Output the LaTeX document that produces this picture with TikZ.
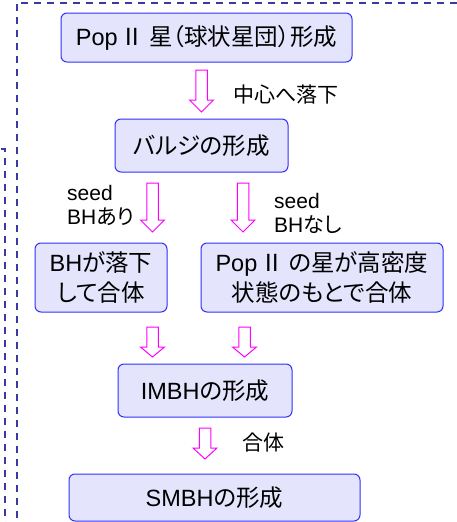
\documentclass[tikz,border=0pt]{standalone}
\usepackage{fontspec}
\setmainfont{Liberation Sans}
\newfontfamily\jp[RawFeature=+palt]{Noto Sans CJK JP}
\definecolor{framec}{RGB}{58,58,160}
\definecolor{boxline}{RGB}{48,48,255}
\definecolor{boxfill}{RGB}{228,228,252}
\definecolor{arrc}{RGB}{255,0,255}
\newcommand\blkarr[4]{%
  \draw[blk] (#1-5.75,#2) -- (#1+5.75,#2) -- (#1+5.75,#3) -- (#1+12,#3) -- (#1,#4) -- (#1-12,#3) -- (#1-5.75,#3) -- cycle;}
\begin{document}
\begin{tikzpicture}[x=1pt,y=-1pt,
  box/.style={draw=boxline, fill=boxfill, rounded corners=6pt, line width=1pt, inner sep=0pt, align=center, font=\fontsize{23.5}{30}\selectfont},
  lbl/.style={inner sep=0pt, align=left, font=\fontsize{21}{24}\selectfont, anchor=west},
  framel/.style={draw=framec, line width=2pt, dash pattern=on 7pt off 6pt},
  blk/.style={draw=arrc, line width=1pt, fill=white, line join=miter}]
\useasboundingbox (0,0) rectangle (457,522);
% frames
\draw[framel] (457,2.5) -- (16.5,2.5) -- (16.5,522);
\draw[framel] (1,148.5) -- (5,148.5) -- (5,522);
% boxes
\node[box, minimum width=291pt, minimum height=49pt] (b1) at (206.5,37.5) {Pop\hspace{3pt}{\jp Ⅱ\hspace{5pt}星（球状星団）形成}};
\node[box, minimum width=173pt, minimum height=53pt] (b2) at (201.5,145.5) {{\jp バルジの形成}};
\node[box, minimum width=132pt, minimum height=69pt] (b3) at (101,277.5) {BH{\jp が落下}\\{\jp して合体}};
\node[box, minimum width=242pt, minimum height=69pt] (b4) at (322,277.5) {Pop\hspace{3pt}{\jp Ⅱ\hspace{5pt}の星が高密度}\\{\jp 状態のもとで合体}};
\node[box, minimum width=174pt, minimum height=53pt] (b5) at (205,390.5) {IMBH{\jp の形成}};
\node[box, minimum width=291pt, minimum height=47pt] (b6) at (214.5,497.5) {SMBH{\jp の形成}};
% labels
\node[lbl] (l1) at (233,95) {\jp 中心へ落下};
\node[lbl] (l2) at (67,205) {seed\\BH{\jp あり}};
\node[lbl] (l3) at (274,213) {seed\\BH{\jp なし}};
\node[lbl] (l4) at (242,443) {\jp 合体};
% block arrows
\blkarr{201.5}{70}{100}{112}
\blkarr{152.5}{183}{220}{232}
\blkarr{243}{183}{220}{232}
\blkarr{152.5}{327}{347}{357}
\blkarr{244.5}{327}{347}{357}
\blkarr{205}{428}{448}{459}
\end{tikzpicture}
\end{document}
